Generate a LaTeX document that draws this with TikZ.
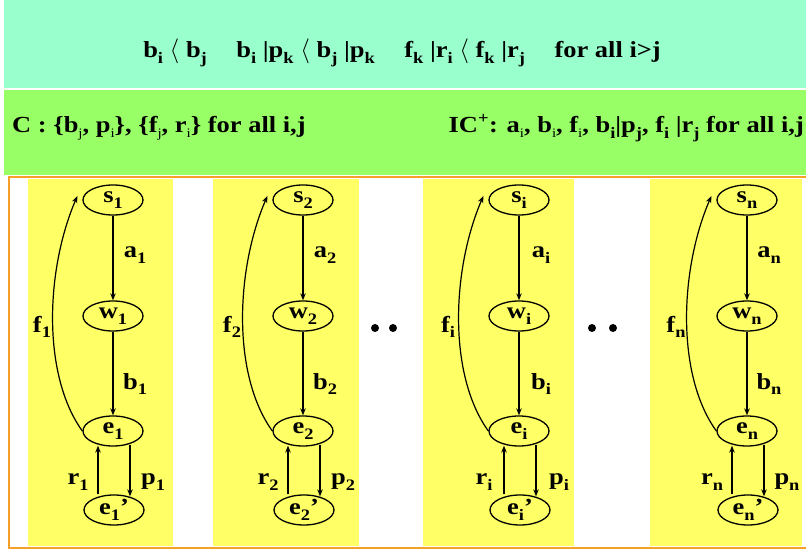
\documentclass[tikz,border=0pt]{standalone}
\usepackage{fontspec}
\setmainfont{Liberation Serif}[FakeStretch=1.15]
\usetikzlibrary{shapes.geometric,arrows.meta,calc}
\definecolor{mint}{RGB}{153,255,204}
\definecolor{lgreen}{RGB}{153,255,102}
\definecolor{colyel}{RGB}{255,255,102}
\definecolor{bord}{RGB}{245,160,40}
\newcommand\nodefont{\fontsize{23}{23}\selectfont\bfseries}
\newcommand\subx[1]{\raisebox{-5.5pt}{\fontsize{16}{16}\selectfont\bfseries #1}}
\newcommand\ssub[1]{\raisebox{-4.5pt}{\fontsize{13}{13}\selectfont\mdseries #1}}
\begin{document}
\begin{tikzpicture}[x=1pt,y=-1pt,
  st/.style={draw, line width=1.3pt, ellipse, minimum width=60pt, minimum height=30pt, inner sep=0pt, font=\nodefont},
  ar/.style={-{Stealth[length=7pt,width=5.5pt]}, line width=1.2pt},
  lab/.style={font=\nodefont, inner sep=0pt},
  band/.style={font=\nodefont, inner sep=0pt}]
\useasboundingbox (0,0) rectangle (806,553);
\fill[white] (0,0) rectangle (806,553);
\fill[mint] (4,0) rectangle (806,88);
\fill[lgreen] (4,90) rectangle (806,175);
\draw[bord, line width=2pt] (806,177) -- (9,177) -- (9,548) -- (806,548);
\foreach \xa/\xb in {28/173, 213/359, 423/574, 650/802}
  \fill[colyel] (\xa,179) rectangle (\xb,546);
\node[band, anchor=base] (top) at (402,58) {b\subx{i} $\langle$ b\subx{j}\quad\ b\subx{i} |p\subx{k} $\langle$ b\subx{j} |p\subx{k}\quad\ f\subx{k} |r\subx{i} $\langle$ f\subx{k} |r\subx{j}\quad\ for all i>j};
\node[band, anchor=base west] (cset) at (12,133) {C : \{b\ssub{j}, p\ssub{i}\}, \{f\ssub{j}, r\ssub{i}\} for all i,j};
\node[band, anchor=base east] (icset) at (804,133) {IC\textsuperscript{+}: a\ssub{i}, b\ssub{i}, f\ssub{i}, b\subx{i}|p\subx{j}, f\subx{i} |r\subx{j} for all i,j};
\foreach \cx/\k in {113/1, 303/2, 519/i, 747/n} {
  \node[st] (s\k) at (\cx,200) {s\subx{\k}};
  \node[st] (w\k) at (\cx,316) {w\subx{\k}};
  \node[st] (e\k) at (\cx,431) {e\subx{\k}};
  \node[st] (ep\k) at (\cx+1,510) {e\subx{\k}'};
  \draw[ar] (s\k) -- (w\k);
  \draw[ar] (w\k) -- (e\k);
  \draw[ar] (e\k.west) .. controls (\cx-71,375) and (\cx-67.5,270) .. ($(s\k.west)+(-5,-4)$);
  \draw[ar] ($(ep\k.north)+(-16,0)$) -- ($(e\k.south)+(-15,-1)$);
  \draw[ar] ($(e\k.south)+(17,-2)$) -- ($(ep\k.north)+(16,2)$);
  \node[lab] (la\k) at (\cx+22,255) {a\subx{\k}};
  \node[lab] (lb\k) at (\cx+22,384) {b\subx{\k}};
  \node[lab] (lf\k) at (\cx-71,327) {f\subx{\k}};
  \node[lab] (lr\k) at (\cx-35,482) {r\subx{\k}};
  \node[lab] (lp\k) at (\cx+40,482) {p\subx{\k}};
}
\foreach \dx [count=\d] in {375,393,592,613}
  \fill (\dx,328) circle (4pt) node (dot\d) {};
\end{tikzpicture}
\end{document}
